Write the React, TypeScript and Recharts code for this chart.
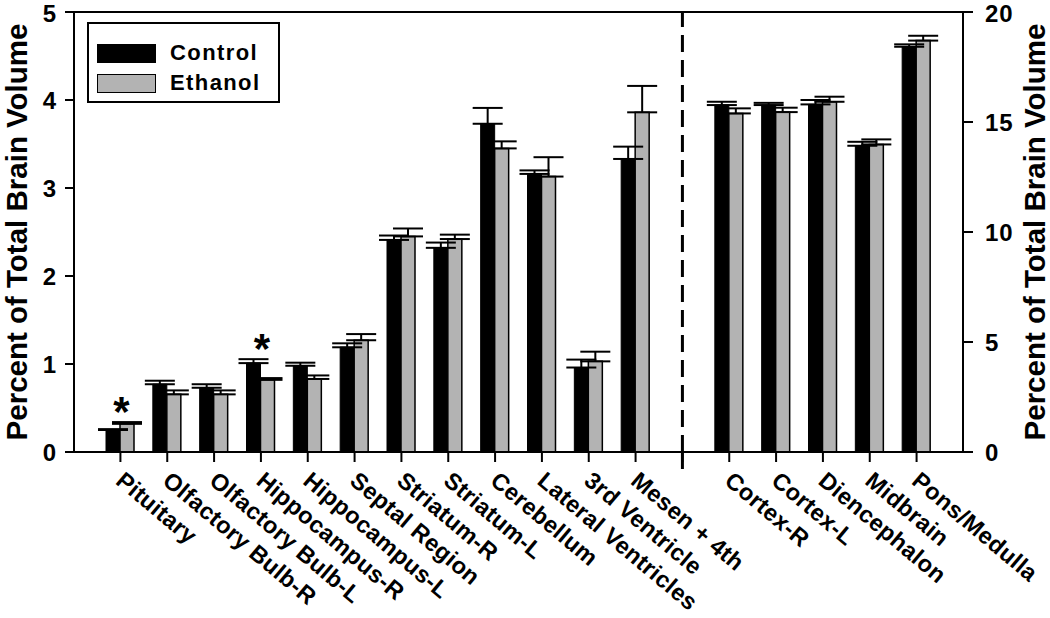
import React from 'react';
import {
  ComposedChart, Bar, XAxis, YAxis, ErrorBar, ReferenceLine, ReferenceDot, Legend
} from 'recharts';

const GAP = ' ';
const leftRegions = [
  'Pituitary', 'Olfactory Bulb-R', 'Olfactory Bulb-L', 'Hippocampus-R', 'Hippocampus-L',
  'Septal Region', 'Striatum-R', 'Striatum-L', 'Cerebellum', 'Lateral Ventricles',
  '3rd Ventricle', 'Mesen + 4th'
];
const rightRegions = ['Cortex-R', 'Cortex-L', 'Diencephalon', 'Midbrain', 'Pons/Medulla'];

// small regions, left axis (0-5 %)
const controlLeft = [0.25, 0.77, 0.73, 1.01, 0.98, 1.19, 2.41, 2.32, 3.73, 3.16, 0.96, 3.33];
const controlLeftErr = [0.01, 0.04, 0.04, 0.045, 0.035, 0.045, 0.05, 0.06, 0.18, 0.04, 0.09, 0.14];
const ethanolLeft = [0.32, 0.655, 0.655, 0.82, 0.83, 1.27, 2.45, 2.42, 3.45, 3.13, 1.03, 3.86];
const ethanolLeftErr = [0.02, 0.045, 0.045, 0.02, 0.04, 0.07, 0.09, 0.05, 0.08, 0.22, 0.11, 0.3];

// large regions, right axis (0-20 %)
const controlRight = [15.77, 15.77, 15.8, 13.92, 18.42];
const controlRightErr = [0.15, 0.1, 0.2, 0.18, 0.11];
const ethanolRight = [15.39, 15.45, 15.92, 13.98, 18.7];
const ethanolRightErr = [0.23, 0.2, 0.23, 0.23, 0.22];

const significant = ['Pituitary', 'Hippocampus-R'];
const leftTicks = [0, 1, 2, 3, 4, 5];
const rightTicks = [0, 5, 10, 15, 20];

const FONT = '"Liberation Sans", Arial, sans-serif';
const GRAY = '#b3b3b3';
const AXIS_TITLE = 'Percent of Total Brain Volume';

const data = [
  ...leftRegions.map((name, i) => ({
    name,
    cL: controlLeft[i], cLe: [0, controlLeftErr[i]],
    eL: ethanolLeft[i], eLe: [0, ethanolLeftErr[i]],
  })),
  { name: GAP },
  ...rightRegions.map((name, i) => ({
    name,
    cR: controlRight[i], cRe: [0, controlRightErr[i]],
    eR: ethanolRight[i], eRe: [0, ethanolRightErr[i]],
  })),
];

const CategoryTick = (props: any) => {
  const { x, y, payload } = props;
  if (payload.value === GAP) {
    return <line x1={x} x2={x} y1={y - 10} y2={y + 7} stroke="#000" strokeWidth={3} />;
  }
  const tx = x - 6;
  const ty = y + 21;
  return (
    <text x={tx} y={ty} transform={`rotate(40 ${tx} ${ty})`} textAnchor="start"
      fontFamily={FONT} fontWeight="bold" fontSize={23.5} letterSpacing={0.3} fill="#000">
      {payload.value}
    </text>
  );
};

const AxisTitle = (props: any) => {
  const { viewBox, dx } = props;
  const cx = viewBox.x + dx;
  const cy = viewBox.y + viewBox.height / 2;
  return (
    <text x={cx} y={cy} transform={`rotate(-90 ${cx} ${cy})`} textAnchor="middle"
      dominantBaseline="central" fontFamily={FONT} fontWeight="bold" fontSize={29.5} fill="#000">
      {AXIS_TITLE}
    </text>
  );
};

const Star = (props: any) => (
  <text x={props.cx + 1} y={props.cy + 4} textAnchor="middle" fontFamily={FONT}
    fontWeight="bold" fontSize={42} fill="#000">*</text>
);

const LegendBox = (props: any) => {
  const items = (props.payload || []).filter((p: any) => p.type !== 'none');
  return (
    <div style={{
      border: '2px solid #000', boxSizing: 'border-box', width: 193, height: 81,
      padding: '14px 0 0 8px', fontFamily: FONT, fontWeight: 'bold', fontSize: 22,
      letterSpacing: 1.4, background: '#fff'
    }}>
      {items.map((it: any) => (
        <div key={it.value} style={{ display: 'flex', alignItems: 'center', height: 30 }}>
          <span style={{
            display: 'inline-block', width: 59, height: 19, boxSizing: 'border-box',
            background: it.color, border: '1.5px solid #000', marginRight: 14
          }} />
          <span>{it.value}</span>
        </div>
      ))}
    </div>
  );
};

const tickStyle = { fontFamily: FONT, fontWeight: 'bold', fontSize: 24, fill: '#000', letterSpacing: 1 };
const lineStyle = { stroke: '#000', strokeWidth: 2 };

export default function App() {
  return (
    <div style={{ position: 'absolute', left: 0, top: 0, background: '#fff' }}>
      <ComposedChart width={1050} height={618} data={data}
        margin={{ top: 12, right: 0, bottom: 0, left: 0 }} barGap={0} barSize={14}>
        <XAxis dataKey="name" interval={0} height={166} tick={<CategoryTick />}
          tickSize={10} tickMargin={0} padding={{ left: 23, right: 23 }}
          axisLine={lineStyle} tickLine={lineStyle} />
        <YAxis yAxisId="left" domain={[0, 5]} ticks={leftTicks} width={74}
          tickSize={9} tickMargin={8} tick={tickStyle} axisLine={lineStyle} tickLine={lineStyle}
          label={<AxisTitle dx={16} />} />
        <YAxis yAxisId="right" orientation="right" domain={[0, 20]} ticks={rightTicks} width={87}
          tickSize={10} tickMargin={12} tick={tickStyle} axisLine={lineStyle} tickLine={lineStyle}
          label={<AxisTitle dx={71} />} />
        <ReferenceLine yAxisId="left" y={5} stroke="#000" strokeWidth={2} />
        <ReferenceLine yAxisId="left" x={GAP} stroke="#000" strokeWidth={3} strokeDasharray="17 8" />
        <Bar yAxisId="left" dataKey="cL" name="Control" stackId="c" fill="#000" stroke="#000"
          strokeWidth={1} isAnimationActive={false}>
          <ErrorBar dataKey="cLe" width={15} stroke="#000" strokeWidth={2} />
        </Bar>
        <Bar yAxisId="right" dataKey="cR" name="Control R" stackId="c" fill="#000" stroke="#000"
          strokeWidth={1} legendType="none" isAnimationActive={false}>
          <ErrorBar dataKey="cRe" width={15} stroke="#000" strokeWidth={2} />
        </Bar>
        <Bar yAxisId="left" dataKey="eL" name="Ethanol" stackId="e" fill={GRAY} stroke="#000"
          strokeWidth={1.5} isAnimationActive={false}>
          <ErrorBar dataKey="eLe" width={15} stroke="#000" strokeWidth={2} />
        </Bar>
        <Bar yAxisId="right" dataKey="eR" name="Ethanol R" stackId="e" fill={GRAY} stroke="#000"
          strokeWidth={1.5} legendType="none" isAnimationActive={false}>
          <ErrorBar dataKey="eRe" width={15} stroke="#000" strokeWidth={2} />
        </Bar>
        {significant.map((name) => {
          const i = leftRegions.indexOf(name);
          const top = Math.max(controlLeft[i] + controlLeftErr[i], ethanolLeft[i] + ethanolLeftErr[i]);
          return <ReferenceDot key={name} yAxisId="left" x={name} y={top} r={0} shape={<Star />} />;
        })}
        <Legend layout="vertical" verticalAlign="middle" align="center" content={<LegendBox />}
          wrapperStyle={{ position: 'absolute', left: 87, top: 22, width: 193, height: 81 }} />
      </ComposedChart>
    </div>
  );
}
